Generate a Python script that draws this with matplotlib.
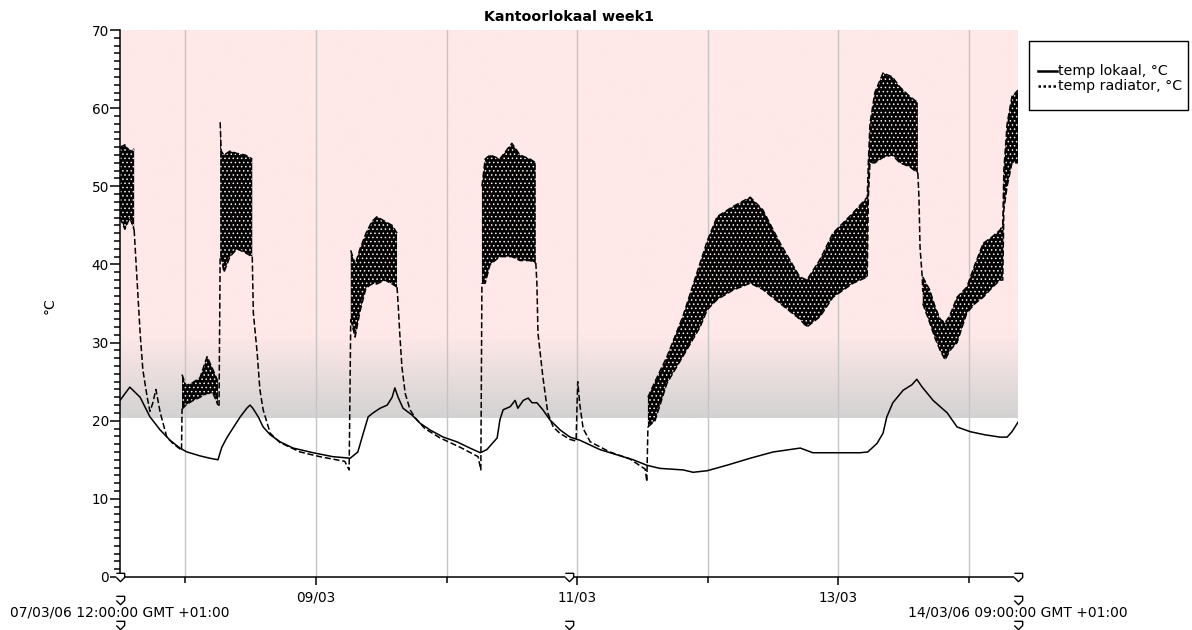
import numpy as np
import pandas as pd
import matplotlib
matplotlib.use("Agg")
import matplotlib.pyplot as plt
import matplotlib.dates as mdates
from matplotlib.lines import Line2D
from matplotlib.patches import Rectangle

nan = np.nan

start = pd.Timestamp("2006-03-07 12:00")
end = pd.Timestamp("2006-03-14 09:00")

# temp lokaal: hours after start, degC
lok_h = [0.0, 1.8, 3.7, 5.5, 7.4, 9.2, 11.0, 12.3, 14.7, 16.5, 18.0, 18.7, 19.7,
         20.8, 22.1, 23.3, 23.9, 24.4, 25.4, 26.3, 27.6, 29.4, 31.8, 35.5, 39.1,
         42.3, 43.7, 44.7, 45.6, 46.5, 47.8, 49.1, 50.0, 50.5, 51.1, 52.0, 53.7,
         55.1, 57.0, 59.4, 61.9, 64.3, 66.2, 67.4, 69.3, 69.8, 70.4, 71.7, 72.6,
         73.1, 74.1, 75.0, 75.7, 76.6, 77.7, 79.0, 80.9, 82.7, 84.5, 88.2, 94.3,
         96.8, 99.2, 103.5, 105.3, 107.9, 111.5, 115.8, 120.0, 125.0, 127.3,
         136.0, 137.4, 139.1, 140.2, 140.9, 142.0, 143.9, 145.5, 146.4, 147.4,
         149.4, 152.0, 153.8, 156.2, 158.9, 161.7, 163.0, 163.9, 165.0]
lok_v = [22.6, 24.3, 23.0, 20.5, 18.8, 17.5, 16.5, 16.0, 15.5, 15.2, 15.0, 16.6, 17.9,
         19.1, 20.5, 21.6, 22.0, 21.6, 20.5, 19.2, 18.2, 17.3, 16.5, 15.9, 15.4,
         15.2, 16.0, 18.4, 20.5, 21.0, 21.6, 22.0, 23.0, 24.2, 23.0, 21.6, 20.7,
         19.7, 18.8, 17.9, 17.3, 16.5, 15.9, 16.3, 17.8, 20.1, 21.4, 21.8, 22.6,
         21.6, 22.6, 22.9, 22.3, 22.3, 21.4, 20.1, 18.8, 17.9, 17.5, 16.3, 15.0,
         14.3, 13.9, 13.7, 13.4, 13.6, 14.3, 15.2, 16.0, 16.5, 15.9,
         15.9, 16.0, 17.1, 18.4, 20.5, 22.3, 23.9, 24.6, 25.3, 24.3,
         22.6, 21.0, 19.2, 18.6, 18.2, 17.9, 17.9, 18.6, 19.8]

# temp radiator, stretches where it is not cycling
rad_h = [2.6, 3.1, 3.7, 4.2, 5.0, 5.5, 6.0, 6.6, 7.4, 8.6, 9.7, 11.0, 11.3, 11.4, nan,
         18.0, 18.2, 18.4, nan,
         24.3, 24.5, 25.2, 25.7, 26.3, 27.6, 29.4, 33.1, 36.7, 41.3, 42.1, 42.4, nan,
         50.9, 51.1, 51.4, 51.8, 52.4, 53.3, 54.2, 56.0, 58.8, 62.5, 65.8, 66.3, 66.5, nan,
         76.4, 76.6, 76.8, 77.7, 78.6, 79.6, 80.8, 82.7, 83.8, 84.1, 84.5, 85.1, 86.4,
         90.0, 93.7, 96.5, 96.8, 97.0, nan,
         146.6, 146.8, 147.0, 147.4, 147.5]
rad_v = [44.4, 38.4, 31.2, 26.5, 23.0, 21.2, 22.2, 24.0, 21.0, 17.9, 17.1, 16.4, 16.2, 21.5, nan,
         22.0, 22.0, 41.0, nan,
         41.0, 33.8, 28.7, 24.0, 21.4, 18.4, 17.2, 16.0, 15.4, 14.8, 13.7, 33.0, nan,
         37.1, 35.0, 31.2, 26.9, 23.5, 21.4, 20.4, 19.0, 17.8, 16.6, 15.4, 13.7, 37.6, nan,
         40.2, 37.6, 31.2, 25.6, 21.0, 19.2, 18.4, 17.6, 17.4, 25.0, 22.0, 19.0, 17.3,
         16.0, 15.1, 13.8, 12.2, 19.2, nan,
         51.7, 48.6, 42.2, 38.4, 36.5]

# temp radiator while cycling: lower and upper edge of the band
band_h = [0.0, 0.9, 1.8, 2.6, nan,
          11.4, 12.1, 13.2, 14.7, 16.0, 17.1, 18.0, nan,
          18.4, 18.6, 19.1, 20.2, 21.5, 23.0, 24.3, nan,
          42.4, 43.2, 44.1, 45.2, 46.3, 47.2, 48.7, 50.0, 50.9, nan,
          66.5, 67.1, 68.0, 69.8, 72.0, 73.5, 75.3, 76.4, nan,
          97.0, 98.3, 100.5, 103.4, 106.6, 107.9, 109.7, 112.6, 115.8, 118.1, 121.3,
          124.9, 126.2, 128.6, 131.0, 134.7, 137.3, 137.5, 137.8, 138.7, 140.2, 141.9,
          143.3, 145.1, 146.6, nan,
          147.5, 148.8, 149.8, 150.7, 151.6, 152.5, 153.8, 155.6, 157.1, 158.6, 160.2,
          161.7, 162.2, 162.4, 163.0, 163.9, 165.0]
band_lo = [46.0, 44.5, 46.0, 44.4, nan,
           21.5, 22.0, 22.5, 23.0, 23.5, 23.5, 22.0, nan,
           41.0, 41.0, 39.0, 41.0, 42.0, 41.5, 41.0, nan,
           33.0, 30.7, 34.0, 37.0, 37.5, 37.5, 38.0, 37.5, 37.1, nan,
           37.6, 37.6, 40.0, 41.0, 41.0, 40.5, 40.5, 40.2, nan,
           19.2, 20.0, 24.8, 28.2, 32.0, 34.2, 35.5, 36.7, 37.6, 36.8, 35.0,
           33.0, 32.0, 33.3, 35.8, 37.6, 38.4, 48.6, 53.0, 53.0, 53.7, 54.0,
           53.0, 52.5, 51.7, nan,
           35.0, 32.5, 30.5, 29.0, 27.8, 29.0, 30.0, 33.8, 35.0, 35.8, 37.0,
           38.0, 38.0, 47.0, 50.0, 53.0, 53.0]
band_hi = [55.0, 55.3, 54.5, 54.8, nan,
           25.9, 24.5, 24.8, 25.5, 28.2, 26.5, 25.0, nan,
           58.2, 54.5, 54.0, 54.5, 54.2, 54.0, 53.5, nan,
           41.8, 40.0, 42.0, 44.0, 45.5, 46.1, 45.5, 45.0, 44.0, nan,
           50.0, 53.5, 54.0, 53.5, 55.5, 54.0, 53.5, 53.0, nan,
           23.0, 25.0, 28.2, 33.3, 40.2, 43.0, 46.1, 47.4, 48.6, 47.0, 42.7,
           38.4, 38.0, 40.6, 44.0, 46.6, 48.6, 53.0, 58.0, 62.0, 64.5, 64.0,
           62.7, 61.5, 60.7, nan,
           38.4, 36.7, 34.5, 33.0, 32.5, 33.5, 35.8, 37.1, 40.0, 42.7, 43.5,
           44.4, 45.0, 52.0, 58.0, 61.5, 62.3]


def to_time(hours):
    return (start + pd.to_timedelta(np.nan_to_num(np.array(hours), nan=0.0), unit="h")).to_numpy()


W, H = 1192, 630
plt.rcParams["font.family"] = "DejaVu Sans"
plt.rcParams["hatch.linewidth"] = 0.6

fig = plt.figure(figsize=(W / 100, H / 100), dpi=100)
ax = fig.add_axes([120 / W, 1 - 577 / H, 898 / W, 547 / H])

# alarm zone background: pink, fading to grey towards 20 degC
x0, x1 = mdates.date2num(start), mdates.date2num(end)
ys = np.linspace(70, 20.3, 300)
pink = np.array([255, 232, 232]) / 255
grey = np.array([211, 210, 210]) / 255
f = np.clip((31 - ys) / (31 - 20.3), 0, 1)[:, None]
grad = pink * (1 - f) + grey * f
ax.imshow(grad[:, None, :], extent=[x0, x1, 20.3, 70], aspect="auto",
          interpolation="bilinear", zorder=0)

lok_t = to_time(lok_h)
rad_t = to_time(rad_h)
band_t = to_time(band_h)

ax.fill_between(band_t, band_lo, band_hi, facecolor="black", edgecolor="#fff0f0",
                linewidth=0, hatch="....", zorder=2)
ax.plot(band_t, band_lo, color="black", lw=1.1, dashes=(4, 1.8), zorder=3)
ax.plot(band_t, band_hi, color="black", lw=1.1, dashes=(4, 1.8), zorder=3)
ax.plot(rad_t, rad_v, color="black", lw=1.1, dashes=(4, 1.8), zorder=3)
ax.plot(lok_t, lok_v, color="black", lw=1.1, zorder=4)

ax.set_xlim(x0, x1)
ax.set_ylim(0, 70)

ax.xaxis.set_major_locator(mdates.DayLocator(bymonthday=[9, 11, 13]))
ax.xaxis.set_minor_locator(mdates.DayLocator(bymonthday=[8, 10, 12, 14]))
ax.xaxis.set_major_formatter(mdates.DateFormatter("%d/%m"))
ax.set_yticks(np.arange(0, 71, 10))
ax.set_yticks(np.arange(0, 71, 1), minor=True)
ax.tick_params(axis="both", which="major", labelsize=9.8, width=1.1, color="black")
ax.tick_params(axis="y", which="major", length=7, pad=1)
ax.tick_params(axis="y", which="minor", length=4, width=1.1)
ax.tick_params(axis="x", which="major", length=6, pad=4)
ax.tick_params(axis="x", which="minor", length=4, width=1.1)
ax.set_axisbelow(True)
ax.grid(True, which="both", axis="x", color="#c4c4c4", lw=1)

for s in ["top", "right"]:
    ax.spines[s].set_visible(False)
for s in ["left", "bottom"]:
    ax.spines[s].set_linewidth(1.1)

# range markers at both ends and the middle of the time axis
shield = [(-1, 1), (1, 1), (1, 0), (0, -1), (-1, 0)]
mid = start + (end - start) / 2
ax.plot([start, mid, end], [0, 0, 0], ls="none", marker=shield, ms=6,
        mfc="white", mec="black", mew=1, clip_on=False, zorder=6)
xt = ax.get_xaxis_transform()
ax.plot([start, end], [-0.042, -0.042], ls="none", marker=shield, ms=6,
        mfc="white", mec="black", mew=1, clip_on=False, transform=xt)
ax.plot([start, mid, end], [-0.088, -0.088, -0.088], ls="none", marker=shield, ms=6,
        mfc="white", mec="black", mew=1, clip_on=False, transform=xt)
ax.text(start, -0.064, "07/03/06 12:00:00 GMT +01:00", transform=xt,
        ha="center", va="center", fontsize=10)
ax.text(end, -0.064, "14/03/06 09:00:00 GMT +01:00", transform=xt,
        ha="center", va="center", fontsize=10)

fig.text(569 / W, 1 - 17 / H, "Kantoorlokaal week1", ha="center", va="center",
         fontsize=10.3, fontweight="bold")
fig.text(50 / W, 1 - 306 / H, "°C", rotation=90, ha="center", va="center", fontsize=10)

# legend box
fig.add_artist(Rectangle((1029 / W, 1 - 110 / H), 159 / W, 69 / H, transform=fig.transFigure,
                         facecolor="white", edgecolor="black", lw=1))
fig.add_artist(Line2D([1038 / W, 1057 / W], [1 - 71 / H] * 2, color="black", lw=1.8))
fig.add_artist(Line2D([1038 / W, 1057 / W], [1 - 86 / H] * 2, color="black", lw=1.8,
                      ls=(0, (1, 1))))
fig.text(1058 / W, 1 - 71 / H, "temp lokaal, °C", va="center", fontsize=10.2)
fig.text(1058 / W, 1 - 86 / H, "temp radiator, °C", va="center", fontsize=10.2)

fig.savefig("out.png", dpi=100)
